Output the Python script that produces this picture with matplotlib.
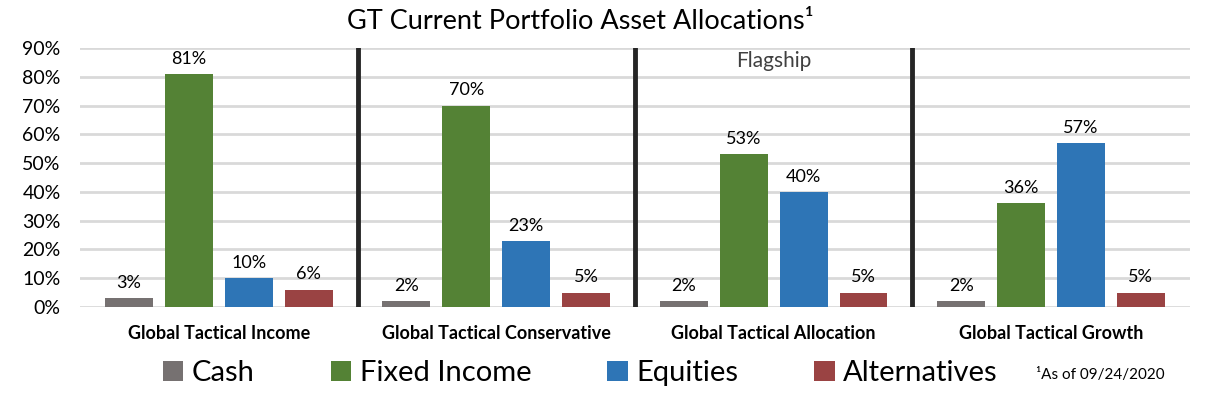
import matplotlib
matplotlib.use('Agg')
import matplotlib.pyplot as plt
import numpy as np

plt.rcParams['font.family'] = ['Lato', 'DejaVu Sans']

portfolios = ['Global Tactical Income', 'Global Tactical Conservative',
              'Global Tactical Allocation', 'Global Tactical Growth']
asset_classes = ['Cash', 'Fixed Income', 'Equities', 'Alternatives']
cash = [3, 2, 2, 2]
fixed_income = [81, 70, 53, 36]
equities = [10, 23, 40, 57]
alternatives = [6, 5, 5, 5]
colors = ['#767171', '#548235', '#2E75B6', '#9A4343']

series = [cash, fixed_income, equities, alternatives]

fig = plt.figure(figsize=(12.14, 3.97), dpi=100)
ax = fig.add_axes([0.066, 0.227, 0.914, 0.652])

x = np.arange(len(portfolios))
width = 0.173
step = 0.216
for i, (vals, c, name) in enumerate(zip(series, colors, asset_classes)):
    pos = x + (i - 1.5) * step
    bars = ax.bar(pos, [v / 100 for v in vals], width, color=c, label=name, zorder=3)
    for b, v in zip(bars, vals):
        ax.text(b.get_x() + b.get_width() / 2, v / 100 + 0.025, f'{v}%',
                ha='center', va='bottom', fontsize=13, color='black')

ax.set_xlim(-0.5, 3.5)
ax.set_ylim(0, 0.9)
ax.set_yticks(np.arange(0, 0.91, 0.1))
ax.set_yticklabels([f'{int(t)}%' for t in np.arange(0, 91, 10)], fontsize=14)
ax.grid(axis='y', color='#D9D9D9', lw=2, zorder=0)
ax.tick_params(axis='y', length=0, pad=14)
ax.tick_params(axis='x', length=0, pad=13)
ax.set_xticks(x)
ax.set_xticklabels(portfolios, fontsize=13, fontweight='bold')
for s in ax.spines.values():
    s.set_visible(False)

for sep in [0.5, 1.5, 2.5]:
    ax.axvline(sep, color='#262626', lw=3.5, zorder=4)

ax.text(2.0, 0.855, 'Flagship', ha='center', va='center', fontsize=15, color='#404040')

fig.text(0.478, 0.945, 'GT Current Portfolio Asset Allocations\u00b9', ha='center', va='center',
         fontsize=19.5)

fig.legend(loc='center', bbox_to_anchor=(0.478, 0.06), ncol=4, frameon=False,
           fontsize=21, handlelength=0.7, handleheight=0.7, handletextpad=0.3,
           columnspacing=2.6)

fig.text(0.853, 0.055, '\u00b9As of 09/24/2020', ha='left', va='center', fontsize=11)

fig.savefig('out.png', dpi=100)
